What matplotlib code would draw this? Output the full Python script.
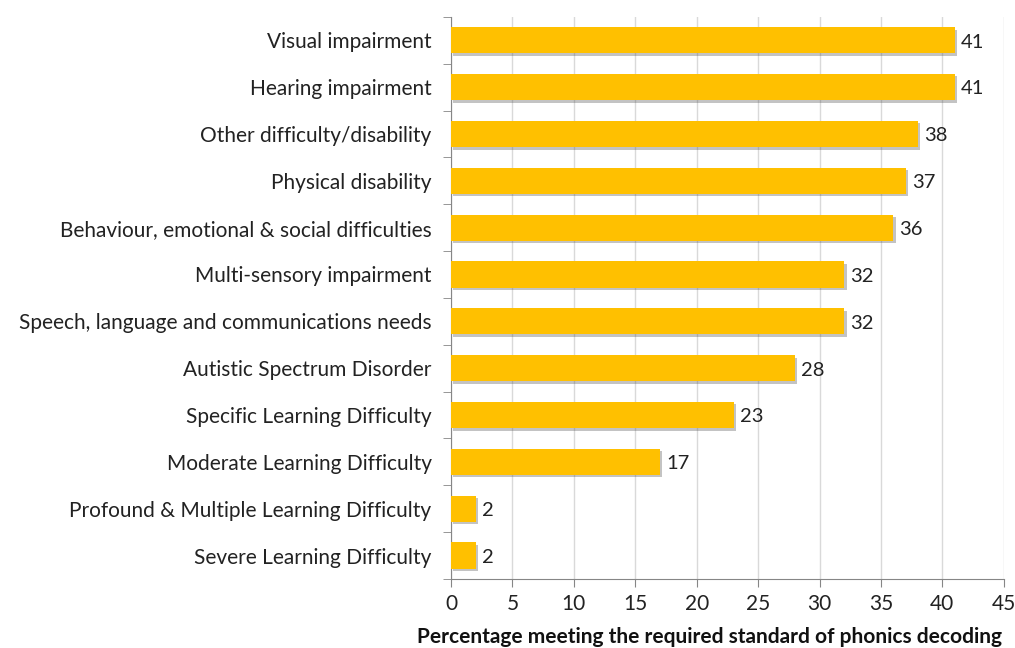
import matplotlib.pyplot as plt
import matplotlib.patheffects as pe
import numpy as np

categories = [
    "Visual impairment",
    "Hearing impairment",
    "Other difficulty/disability",
    "Physical disability",
    "Behaviour, emotional & social difficulties",
    "Multi-sensory impairment",
    "Speech, language and communications needs",
    "Autistic Spectrum Disorder",
    "Specific Learning Difficulty",
    "Moderate Learning Difficulty",
    "Profound & Multiple Learning Difficulty",
    "Severe Learning Difficulty",
]
values = [41, 41, 38, 37, 36, 32, 32, 28, 23, 17, 2, 2]
xticks = [0, 5, 10, 15, 20, 25, 30, 35, 40, 45]
xlabel = "Percentage meeting the required standard of phonics decoding"

plt.rcParams['font.family'] = ['Lato', 'DejaVu Sans']

fig = plt.figure(figsize=(10.15, 6.48), dpi=100)
ax = fig.add_axes([0.4443, 0.1065, 0.5447, 0.8675])

y = np.arange(len(categories))
bars = ax.barh(y, values, height=0.56, color='#FFC000', zorder=3)
for b in bars:
    b.set_path_effects([pe.SimplePatchShadow(offset=(1.8, -1.8), shadow_rgbFace='#555555', alpha=0.35),
                        pe.Normal()])

for yi, v in zip(y, values):
    ax.text(v + 0.5, yi + 0.04, str(v), va='center', ha='left', fontsize=14.5, color='#222222')

ax.set_ylim(len(categories) - 0.5, -0.5)
ax.set_xlim(0, 45)
ax.set_yticks(y)
ax.set_yticklabels(categories, fontsize=15, color='#222222')
ax.set_yticks(np.arange(-0.5, len(categories)), minor=True)
ax.tick_params(axis='y', which='major', length=0, pad=14)
ax.tick_params(axis='y', which='minor', length=6, color='#868686')

ax.set_xticks(xticks)
ax.set_xticklabels([str(t) for t in xticks], fontsize=15, color='#222222')
ax.tick_params(axis='x', length=6, color='#868686', pad=5)
ax.set_xlabel(xlabel, fontsize=15, fontweight='bold', color='#111111')
ax.xaxis.set_label_coords(0.468, -0.086)

ax.grid(axis='x', color='#d9d9d9', linewidth=1, zorder=0)
ax.set_axisbelow(True)
for s in ['top', 'right']:
    ax.spines[s].set_visible(False)
ax.spines['left'].set_color('#868686')
ax.spines['bottom'].set_color('#868686')

fig.savefig('out.png', dpi=100)
